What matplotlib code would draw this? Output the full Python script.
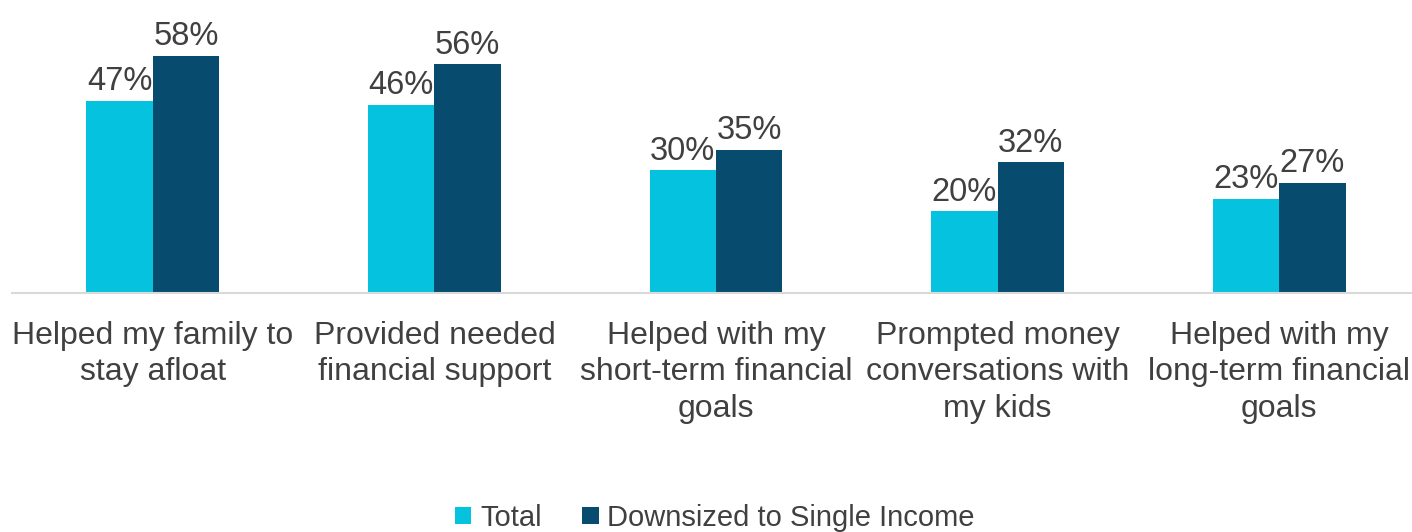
import numpy as np
import matplotlib.pyplot as plt

plt.rcParams['font.family'] = ['Liberation Sans', 'DejaVu Sans']

categories = ["Helped my family to\nstay afloat",
              "Provided needed\nfinancial support",
              "Helped with my\nshort-term financial\ngoals",
              "Prompted money\nconversations with\nmy kids",
              "Helped with my\nlong-term financial\ngoals"]
total = [47, 46, 30, 20, 23]
downsized = [58, 56, 35, 32, 27]
series_names = ["Total", "Downsized to Single Income"]

c_total = "#05C3DE"
c_down = "#074B6E"
text_col = "#404040"

fig = plt.figure(figsize=(14.12, 5.32), dpi=100)
ax = fig.add_axes([12 / 1412, 1 - 293 / 532, 1408 / 1412, 286 / 532])

x = np.arange(len(categories))
w = 0.236
b1 = ax.bar(x - w / 2, total, w, color=c_total, label=series_names[0])
b2 = ax.bar(x + w / 2, downsized, w, color=c_down, label=series_names[1])

for bars, vals in ((b1, total), (b2, downsized)):
    for r, v in zip(bars, vals):
        ax.text(r.get_x() + r.get_width() / 2, v + 0.9, f"{v}%",
                ha="center", va="bottom", fontsize=23.5, color=text_col)

ax.set_xlim(-0.5, len(categories) - 0.5)
ax.set_ylim(0, 70)
ax.set_yticks([])
ax.set_xticks(x)
ax.set_xticklabels(categories, fontsize=23, color=text_col, linespacing=1.28)
ax.tick_params(axis="x", length=0, pad=20)
for s in ["top", "right", "left"]:
    ax.spines[s].set_visible(False)
ax.spines["bottom"].set_color("#D9D9D9")
ax.spines["bottom"].set_linewidth(1.5)

fig.legend(loc="center", bbox_to_anchor=(715 / 1412, 1 - 518 / 532), ncol=2,
           frameon=False, fontsize=21, handlelength=0.55, handleheight=0.55,
           handletextpad=0.3, columnspacing=1.4, labelcolor=text_col)

fig.savefig("out.png", dpi=100)
